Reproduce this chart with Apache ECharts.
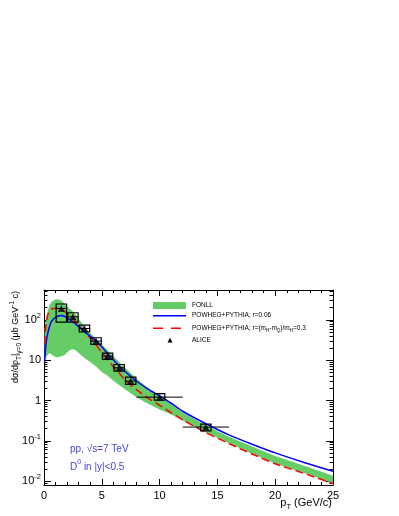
<!DOCTYPE html>
<html>
<head>
<meta charset="utf-8">
<script src="https://cdn.jsdelivr.net/npm/echarts@6.0.0/dist/echarts.min.js"></script>
<style>
  html, body { margin: 0; padding: 0; background: #fff; }
  #chart { width: 399px; height: 516px; }
</style>
</head>
<body>
<div id="chart"></div>
<script>
// FONLL band (upper / lower edge)
var bandPt   = [0.05, 0.25, 0.5, 0.75, 1, 1.25, 1.5, 1.75, 2, 2.25, 2.5, 2.75, 3, 3.5, 4, 4.5, 5, 5.5, 6, 7, 8, 9, 10, 11, 12, 14, 16, 18, 20, 22.5, 25];
var bandHigh = [60, 140, 245, 295, 320, 325, 300, 255, 215, 185, 162, 135, 105, 68, 47, 34, 24.5, 17.5, 12.5, 6.6, 3.5, 2.05, 1.3, 0.85, 0.5, 0.24, 0.125, 0.072, 0.042, 0.024, 0.0135];
var bandLow  = [9.5, 12.8, 15, 13, 11.9, 11.8, 12.5, 13.2, 15.5, 17.8, 18.6, 17.6, 15, 11.3, 9.0, 7.0, 5.1, 4.1, 3.1, 1.9, 1.2, 0.83, 0.6, 0.45, 0.32, 0.16, 0.087, 0.048, 0.0275, 0.0158, 0.0089];

// POWHEG+PYTHIA curves
var linePt     = [0.05, 0.15, 0.25, 0.4, 0.6, 0.8, 1, 1.25, 1.5, 1.75, 2, 2.5, 3, 3.5, 4, 4.5, 5, 5.5, 6, 6.5, 7, 8, 9, 10, 11, 12, 14, 16, 18, 20, 22.5, 25];
var powhegR006 = [9, 22, 36, 57, 86, 104, 115, 124, 128, 123, 112, 89, 68, 51, 39, 30, 21.5, 14.5, 10.2, 7.2, 5.3, 3.0, 1.92, 1.3, 0.86, 0.54, 0.265, 0.14, 0.082, 0.05, 0.029, 0.0175];
var powhegR03  = [25, 65, 108, 150, 180, 192, 195, 192, 180, 165, 145, 108, 73, 50, 35, 24, 15.5, 10.5, 6.8, 4.8, 3.2, 1.85, 1.15, 0.76, 0.5, 0.33, 0.16, 0.085, 0.047, 0.027, 0.0155, 0.0087];

// ALICE D0 data
var alicePt      = [1.5, 2.5, 3.5, 4.5, 5.5, 6.5, 7.5, 10, 14];
var aliceVal     = [192, 119, 61, 29.7, 12.6, 6.47, 3.03, 1.21, 0.219];
var aliceBinHalf = [0.5, 0.5, 0.5, 0.5, 0.5, 0.5, 0.5, 2, 2];
var aliceSysLow  = [88, 88, 49.9, 24.5, 10.4, 5.35, 2.5, 1.02, 0.177];
var aliceSysHigh = [247, 150, 74.3, 36, 15, 7.8, 3.8, 1.47, 0.26];

// axis ticks
var yMajor = [0.01, 0.1, 1, 10, 100];
var yMinor = [0.009, 0.02, 0.03, 0.04, 0.05, 0.06, 0.07, 0.08, 0.09, 0.2, 0.3, 0.4, 0.5, 0.6, 0.7, 0.8, 0.9,
              2, 3, 4, 5, 6, 7, 8, 9, 20, 30, 40, 50, 60, 70, 80, 90, 200, 300, 400, 500];

var FONT = "Liberation Sans, Arial, Helvetica, sans-serif";
var GREEN = "#66cc66";

var dom = document.getElementById("chart");
var chart = echarts.init(dom, null, { renderer: "canvas" });

var bandData = bandPt.map(function (x, i) { return [x, bandLow[i], bandHigh[i]]; });
var aliceData = alicePt.map(function (x, i) {
  return [x, aliceVal[i], aliceBinHalf[i], aliceSysLow[i], aliceSysHigh[i]];
});

function yAxisCfg(pos, major, showLabel) {
  return {
    type: "log",
    logBase: 10,
    position: pos,
    min: 0.008,
    max: 550,
    axisLine: { show: major, lineStyle: { color: "#000", width: 1 } },
    axisTick: {
      show: true, inside: true, length: major ? 7 : 3.5,
      customValues: major ? yMajor : yMinor,
      lineStyle: { color: "#000", width: 1 }
    },
    axisLabel: {
      show: showLabel,
      customValues: yMajor,
      margin: 3,
      color: "#000",
      fontFamily: FONT,
      formatter: function (v) {
        var p = Math.round(Math.log10(v));
        if (p === 0) return "{b|1}";
        if (p === 1) return "{b|10}";
        return "{b|10}{sup|" + p + "}";
      },
      rich: {
        b: { fontSize: 11, fontFamily: FONT, color: "#000", lineHeight: 16, verticalAlign: "middle" },
        sup: { fontSize: 7.5, fontFamily: FONT, color: "#000", lineHeight: 10, verticalAlign: "top" }
      }
    },
    splitLine: { show: false }
  };
}

function xAxisCfg(pos, showLabel) {
  return {
    type: "value",
    position: pos,
    min: 0,
    max: 25,
    interval: 5,
    axisLine: { show: true, lineStyle: { color: "#000", width: 1 } },
    axisTick: { show: true, inside: true, length: 6, lineStyle: { color: "#000" } },
    minorTick: { show: true, splitNumber: 5, length: 3, lineStyle: { color: "#000" } },
    axisLabel: { show: showLabel, fontSize: 11, fontFamily: FONT, color: "#000", margin: 5 },
    splitLine: { show: false },
    minorSplitLine: { show: false }
  };
}

var legendRich = {
  sub: { fontSize: 4.5, fontFamily: FONT, fill: "#000", lineHeight: 4.5, verticalAlign: "bottom" }
};

var option = {
  backgroundColor: "#fff",
  animation: false,
  grid: { left: 44, right: 66, top: 290, bottom: 31, containLabel: false },
  xAxis: [xAxisCfg("bottom", true), xAxisCfg("top", false)],
  yAxis: [
    yAxisCfg("left", true, true),
    yAxisCfg("left", false, false),
    yAxisCfg("right", true, false),
    yAxisCfg("right", false, false)
  ],
  series: [
    {
      // FONLL band
      type: "custom",
      name: "FONLL",
      data: bandData,
      encode: { x: 0, y: [1, 2] },
      renderItem: function (params, api) {
        if (params.dataIndex !== 0) return;
        var top = [], bot = [];
        for (var i = 0; i < bandData.length; i++) {
          top.push(api.coord([bandData[i][0], bandData[i][2]]));
          bot.unshift(api.coord([bandData[i][0], bandData[i][1]]));
        }
        return {
          type: "polygon",
          shape: { points: top.concat(bot) },
          style: { fill: GREEN, stroke: null }
        };
      },
      z: 1
    },
    {
      type: "line",
      name: "POWHEG+PYTHIA; r=0.3",
      data: linePt.map(function (x, i) { return [x, powhegR03[i]]; }),
      showSymbol: false,
      smooth: 0.2,
      lineStyle: { color: "#ff0000", width: 1.5, type: [8, 4] },
      z: 3
    },
    {
      type: "line",
      name: "POWHEG+PYTHIA; r=0.06",
      data: linePt.map(function (x, i) { return [x, powhegR006[i]]; }),
      showSymbol: false,
      smooth: 0.2,
      lineStyle: { color: "#0000ff", width: 1.5 },
      z: 4
    },
    {
      // ALICE systematic boxes + horizontal bin bars
      type: "custom",
      name: "ALICE syst",
      data: aliceData,
      renderItem: function (params, api) {
        var x = api.value(0), y = api.value(1), hw = api.value(2);
        var lo = api.value(3), hi = api.value(4);
        var p1 = api.coord([x - 0.45, hi]);
        var p2 = api.coord([x + 0.45, lo]);
        var a = api.coord([x - hw, y]);
        var b = api.coord([x + hw, y]);
        return {
          type: "group",
          children: [
            { type: "line", shape: { x1: a[0], y1: a[1], x2: b[0], y2: b[1] }, style: { stroke: "#000", lineWidth: 1 } },
            { type: "rect", shape: { x: p1[0], y: p1[1], width: p2[0] - p1[0], height: p2[1] - p1[1] },
              style: { fill: null, stroke: "#000", lineWidth: 1.2 } }
          ]
        };
      },
      z: 5
    },
    {
      type: "scatter",
      name: "ALICE",
      data: aliceData.map(function (d) { return [d[0], d[1]]; }),
      symbol: "triangle",
      symbolSize: 7,
      itemStyle: { color: "#000" },
      z: 6
    }
  ],
  graphic: [
    // y title
    {
      type: "text", x: 16, y: 291, rotation: Math.PI / 2, z: 10,
      style: {
        text: "dσ/dp{s|T}|{s|y=0} (μb GeV{p|-1} c)",
        fontSize: 9, fontFamily: FONT, fill: "#000",
        align: "right", verticalAlign: "middle",
        lineHeight: 14,
        rich: {
          s: { fontSize: 6.5, fontFamily: FONT, fill: "#000", lineHeight: 7, verticalAlign: "bottom" },
          p: { fontSize: 6.5, fontFamily: FONT, fill: "#000", lineHeight: 7, verticalAlign: "top" }
        }
      }
    },
    // x title
    {
      type: "text", x: 332, y: 503, z: 10,
      style: {
        text: "p{s|T} (GeV/c)",
        fontSize: 11, fontFamily: FONT, fill: "#000",
        align: "right", verticalAlign: "middle", lineHeight: 16,
        rich: { s: { fontSize: 7.5, fontFamily: FONT, fill: "#000", lineHeight: 8, verticalAlign: "bottom" } }
      }
    },
    // annotations
    {
      type: "text", x: 70, y: 449, z: 10,
      style: { text: "pp, √s=7 TeV", fontSize: 10, fontFamily: FONT, fill: "#4646d8", verticalAlign: "middle" }
    },
    {
      type: "text", x: 70, y: 467, z: 10,
      style: {
        text: "D{p|0} in |y|<0.5", fontSize: 10, fontFamily: FONT, fill: "#4646d8",
        verticalAlign: "middle", lineHeight: 16,
        rich: { p: { fontSize: 7, fontFamily: FONT, fill: "#4646d8", lineHeight: 8, verticalAlign: "top" } }
      }
    },
    // legend
    { type: "rect", shape: { x: 153, y: 302, width: 33, height: 7 }, style: { fill: GREEN }, z: 10 },
    { type: "line", shape: { x1: 153, y1: 315.7, x2: 186, y2: 315.7 }, style: { stroke: "#0000ff", lineWidth: 1.5 }, z: 10 },
    { type: "line", shape: { x1: 153, y1: 328.3, x2: 186, y2: 328.3 }, style: { stroke: "#ff0000", lineWidth: 1.5, lineDash: [10, 8] }, z: 10 },
    { type: "polygon", shape: { points: [[167.5, 342.5], [172.5, 342.5], [170, 337.8]] }, style: { fill: "#000" }, z: 10 },
    { type: "text", x: 192, y: 305.5, z: 10, style: { text: "FONLL", fontSize: 6.5, fontFamily: FONT, fill: "#000", verticalAlign: "middle" } },
    { type: "text", x: 192, y: 315.7, z: 10, style: { text: "POWHEG+PYTHIA; r=0.06", fontSize: 6.5, fontFamily: FONT, fill: "#000", verticalAlign: "middle" } },
    { type: "text", x: 192, y: 328.3, z: 10, style: {
        text: "POWHEG+PYTHIA; r=(m{sub|H}-m{sub|Q})/m{sub|H}=0.3", fontSize: 6.5, fontFamily: FONT, fill: "#000",
        verticalAlign: "middle", lineHeight: 9, rich: legendRich } },
    { type: "text", x: 192, y: 340, z: 10, style: { text: "ALICE", fontSize: 6.5, fontFamily: FONT, fill: "#000", verticalAlign: "middle" } }
  ]
};

chart.setOption(option);
</script>
</body>
</html>
